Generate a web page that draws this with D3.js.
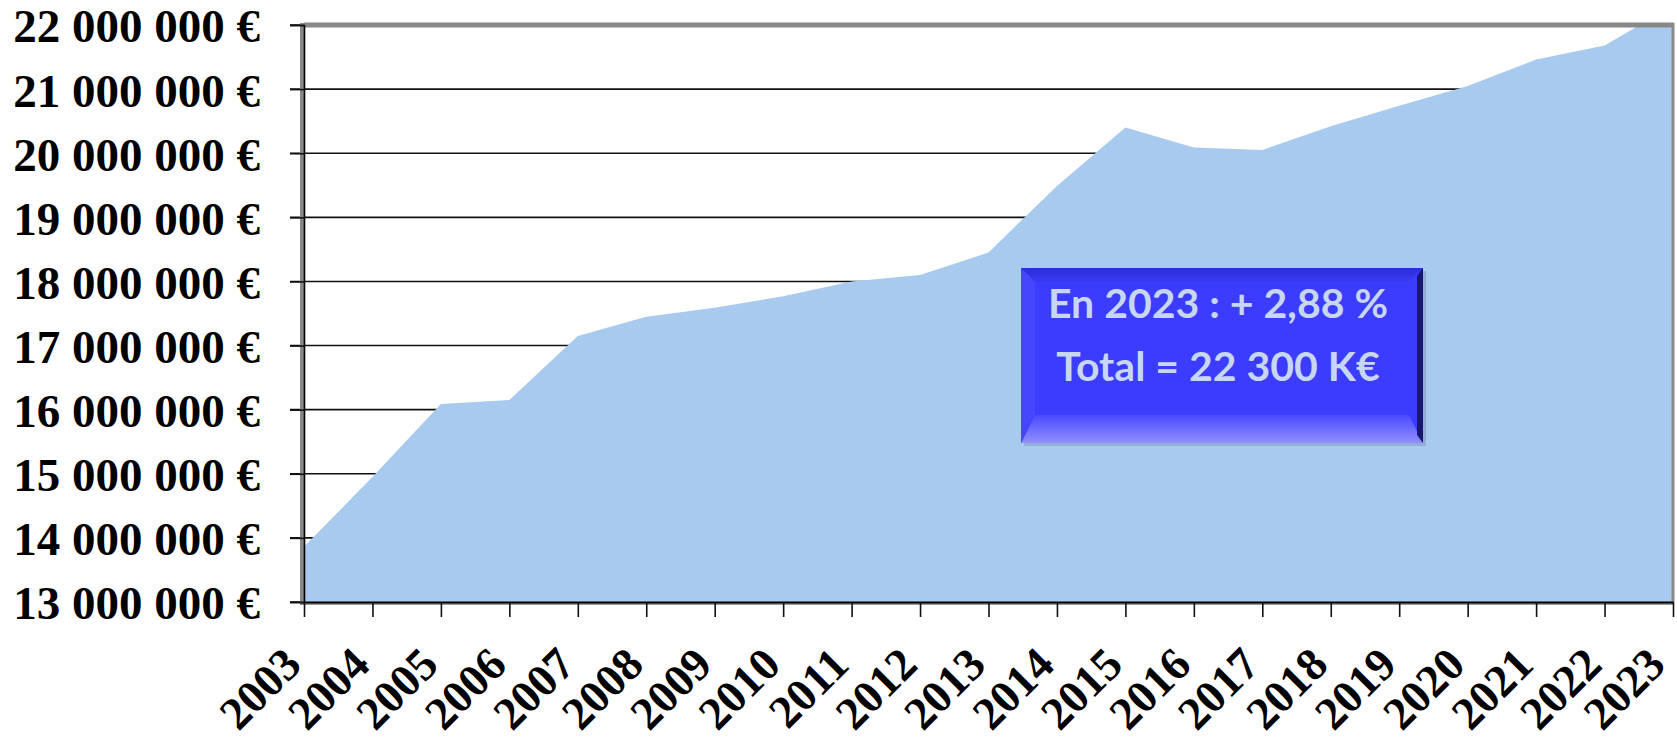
<!DOCTYPE html>
<html>
<head>
<meta charset="utf-8">
<script src="https://cdn.jsdelivr.net/npm/d3@7"></script>
<style>
  body { margin: 0; background: #fff; }
  svg { display: block; }
</style>
</head>
<body>
<svg id="chart"></svg>
<script>
// data
var years = ["2003","2004","2005","2006","2007","2008","2009","2010","2011","2012","2013",
             "2014","2015","2016","2017","2018","2019","2020","2021","2022","2023"];
var totals = [13860000, 14950000, 16090000, 16150000, 17150000, 17450000, 17590000, 17770000,
              18000000, 18100000, 18450000, 19490000, 20400000, 20090000, 20050000, 20420000,
              20740000, 21050000, 21460000, 21680000, 22300000];
var yTicks = [13000000, 14000000, 15000000, 16000000, 17000000, 18000000, 19000000,
              20000000, 21000000, 22000000];
var calloutLines = ["En 2023 : + 2,88 %", "Total = 22 300 K€"];

var W = 1677, H = 743;
var margin = {top: 25, right: 4, bottom: 141, left: 304},
    width = W - margin.left - margin.right,
    height = H - margin.top - margin.bottom;

var svg = d3.select("#chart").attr("width", W).attr("height", H);
var defs = svg.append("defs");
defs.append("clipPath").attr("id", "plotclip")
    .append("rect").attr("width", width).attr("height", height);

var g = svg.append("g")
    .attr("transform", "translate(" + margin.left + "," + margin.top + ")");

var x = d3.scalePoint().domain(years).range([0, width]);
var y = d3.scaleLinear().domain([13000000, 22000000]).range([height, 0]);

var loc = d3.formatLocale({decimal: ",", thousands: " ", grouping: [3], currency: ["", " €"]});
var fmt = loc.format("$,");

// gridlines
g.append("g").selectAll("line")
    .data(yTicks)
    .join("line")
    .attr("x1", -14).attr("x2", width)
    .attr("y1", function(d) { return y(d); })
    .attr("y2", function(d) { return y(d); })
    .attr("stroke", "#111")
    .attr("stroke-width", 1.6);

// area
var area = d3.area()
    .x(function(d, i) { return x(years[i]); })
    .y0(height)
    .y1(function(d) { return y(d); });
g.append("path")
    .datum(totals)
    .attr("clip-path", "url(#plotclip)")
    .attr("fill", "#a8caef")
    .attr("d", area);

// frame (gray top/right/left, black axes)
g.append("line").attr("x1", 0).attr("x2", width + 1).attr("y1", 0).attr("y2", 0)
    .attr("stroke", "#888").attr("stroke-width", 5);
g.append("line").attr("x1", width).attr("x2", width).attr("y1", -2).attr("y2", height)
    .attr("stroke", "#8a8a8a").attr("stroke-width", 3);
g.append("line").attr("x1", -2).attr("x2", -2).attr("y1", -2).attr("y2", height + 3)
    .attr("stroke", "#888").attr("stroke-width", 4);
g.append("line").attr("x1", 0).attr("x2", width).attr("y1", height + 2).attr("y2", height + 2)
    .attr("stroke", "#999").attr("stroke-width", 2);

// y axis
var yAxis = g.append("g")
    .call(d3.axisLeft(y).tickValues(yTicks).tickFormat(fmt).tickSize(14).tickPadding(30));
yAxis.select(".domain").attr("stroke", "#000").attr("stroke-width", 1.6);
yAxis.selectAll(".tick line").attr("stroke", "#111").attr("stroke-width", 1.6);
yAxis.selectAll("text")
    .attr("fill", "#000")
    .style("font-family", "'Liberation Serif', 'Times New Roman', serif")
    .style("font-weight", "bold")
    .style("font-size", "47px")
    .attr("dy", "0.36em");

// x axis
var xAxis = g.append("g")
    .attr("transform", "translate(0," + height + ")")
    .call(d3.axisBottom(x).tickSize(15).tickSizeOuter(0));
xAxis.select(".domain").attr("stroke", "#000").attr("stroke-width", 2);
xAxis.selectAll(".tick line").attr("stroke", "#111").attr("stroke-width", 1.6);
xAxis.selectAll("text")
    .attr("fill", "#000")
    .style("font-family", "'Liberation Serif', 'Times New Roman', serif")
    .style("font-weight", "bold")
    .style("font-size", "46px")
    .attr("text-anchor", "end")
    .attr("y", 0).attr("dy", 0)
    .attr("transform", function(d, i) {
        // last label is pulled in a little so it stays inside the page
        var dx = i === years.length - 1 ? -6 : -1;
        return "translate(" + dx + ",65) rotate(-45)";
    });

// callout box with bevel
var bx = 1021, by = 268, bw = 402, bh = 175, bev = 14;
var grdTop = defs.append("linearGradient").attr("id", "bevtop").attr("x1", 0).attr("y1", 0).attr("x2", 0).attr("y2", 1);
grdTop.append("stop").attr("offset", 0).attr("stop-color", "#2c2cd8");
grdTop.append("stop").attr("offset", 1).attr("stop-color", "#3a3af6");
var grdBot = defs.append("linearGradient").attr("id", "bevbot").attr("x1", 0).attr("y1", 0).attr("x2", 0).attr("y2", 1);
grdBot.append("stop").attr("offset", 0).attr("stop-color", "#4a4aff");
grdBot.append("stop").attr("offset", 1).attr("stop-color", "#9090ff");

var box = svg.append("g");
box.append("rect").attr("x", bx + 3).attr("y", by + 3).attr("width", bw).attr("height", bh)
    .attr("fill", "#7d8fc0").attr("opacity", 0.5);
box.append("rect").attr("x", bx).attr("y", by).attr("width", bw).attr("height", bh)
    .attr("fill", "#3c3cff");
box.append("path").attr("fill", "url(#bevtop)")
    .attr("d", "M" + bx + "," + by + "h" + bw + "l" + (-bev) + "," + bev + "h" + (-(bw - 2 * bev)) + "z");
box.append("path").attr("fill", "url(#bevbot)")
    .attr("d", "M" + bx + "," + (by + bh) + "h" + bw + "l" + (-bev) + "," + (-(bev + 14)) + "h" + (-(bw - 2 * bev)) + "z");
box.append("path").attr("fill", "#18186e")
    .attr("d", "M" + (bx + bw) + "," + by + "v" + bh + "l" + (-6) + "," + (-8) + "v" + (-(bh - 16)) + "z");
box.append("path").attr("fill", "#4646ff")
    .attr("d", "M" + bx + "," + by + "v" + bh + "l" + bev + "," + (-(bev + 14)) + "v" + (-(bh - 2 * bev - 14)) + "z");

box.selectAll("text.callout")
    .data(calloutLines)
    .join("text")
    .attr("class", "callout")
    .attr("x", bx + bw / 2 - 4)
    .attr("y", function(d, i) { return by + 50 + i * 63; })
    .attr("text-anchor", "middle")
    .attr("fill", "#c7d6f2")
    .style("font-family", "Lato, 'Open Sans', sans-serif")
    .style("font-weight", "bold")
    .style("font-size", "41px")
    .text(function(d) { return d; });
</script>
</body>
</html>
